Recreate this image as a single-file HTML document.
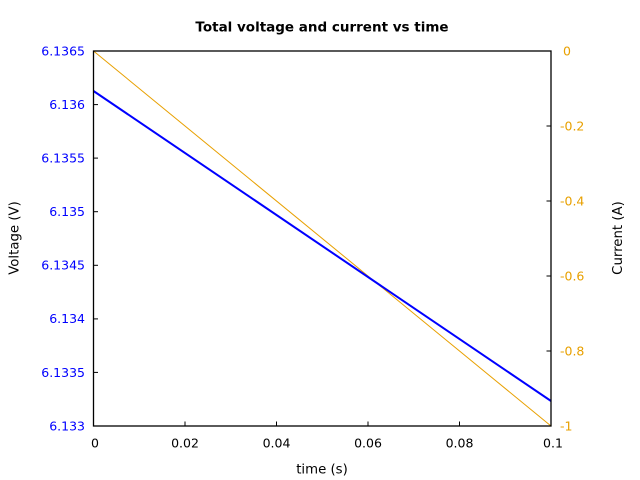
<!DOCTYPE html>
<html><head><meta charset="utf-8"><style>
html,body{margin:0;padding:0;background:#fff;}
svg{display:block;}
text{font-family:"DejaVu Sans","Liberation Sans",sans-serif;font-size:12.5px;}
</style></head><body>
<svg width="640" height="480" viewBox="0 0 640 480" xmlns="http://www.w3.org/2000/svg">
<rect width="640" height="480" fill="#fff"/>
<text x="322" y="31.5" text-anchor="middle" font-weight="bold" fill="#000" style="font-size:13.5px">Total voltage and current vs time</text>
<!-- series -->
<line x1="93.5" y1="51" x2="551" y2="426" stroke="#e8a000" stroke-width="1"/>
<line x1="93.5" y1="91" x2="551" y2="401" stroke="#0000ff" stroke-width="2"/>
<!-- frame -->
<rect x="93.5" y="51" width="457.5" height="375" fill="none" stroke="#000" stroke-width="1.3"/>
<g stroke="#000" stroke-width="1">
<line x1="93.5" y1="104.6" x2="98" y2="104.6"/>
<line x1="93.5" y1="158.1" x2="98" y2="158.1"/>
<line x1="93.5" y1="211.7" x2="98" y2="211.7"/>
<line x1="93.5" y1="265.3" x2="98" y2="265.3"/>
<line x1="93.5" y1="318.9" x2="98" y2="318.9"/>
<line x1="93.5" y1="372.4" x2="98" y2="372.4"/>
<line x1="551" y1="126" x2="546.5" y2="126"/>
<line x1="551" y1="201" x2="546.5" y2="201"/>
<line x1="551" y1="276" x2="546.5" y2="276"/>
<line x1="551" y1="351" x2="546.5" y2="351"/>
<line x1="185" y1="426" x2="185" y2="421.5"/>
<line x1="276.5" y1="426" x2="276.5" y2="421.5"/>
<line x1="368" y1="426" x2="368" y2="421.5"/>
<line x1="459.5" y1="426" x2="459.5" y2="421.5"/>
</g>
<g fill="#0000ff" text-anchor="end">
<text x="85" y="55.5">6.1365</text>
<text x="85" y="109">6.136</text>
<text x="85" y="162.5">6.1355</text>
<text x="85" y="216">6.135</text>
<text x="85" y="269.5">6.1345</text>
<text x="85" y="323">6.134</text>
<text x="85" y="377">6.1335</text>
<text x="85" y="430.5">6.133</text>
</g>
<g fill="#e8a000" text-anchor="start">
<text x="563" y="55.5">0</text>
<text x="560" y="130.5">-0.2</text>
<text x="560" y="205.5">-0.4</text>
<text x="560" y="280.5">-0.6</text>
<text x="560" y="355.5">-0.8</text>
<text x="560" y="430.5">-1</text>
</g>
<g fill="#000" text-anchor="middle">
<text x="95" y="447.5">0</text>
<text x="185" y="447.5">0.02</text>
<text x="276.5" y="447.5">0.04</text>
<text x="368" y="447.5">0.06</text>
<text x="459.5" y="447.5">0.08</text>
<text x="553" y="447.5">0.1</text>
<text x="322" y="473.5" style="font-size:13.3px">time (s)</text>
<text transform="translate(18.5,238) rotate(-90)" style="font-size:13.3px">Voltage (V)</text>
<text transform="translate(622,238) rotate(-90)" style="font-size:13.3px">Current (A)</text>
</g>
</svg>
</body></html>
